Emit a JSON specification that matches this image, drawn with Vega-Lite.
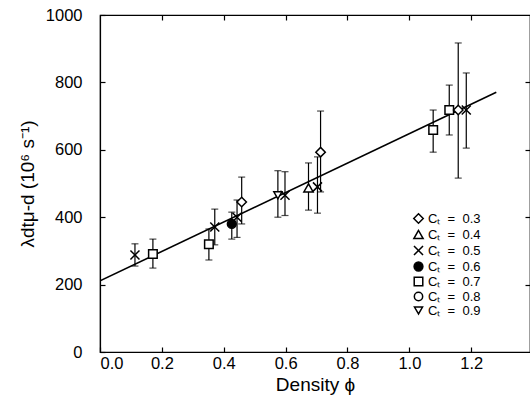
{
  "$schema": "https://vega.github.io/schema/vega-lite/v6.json",
  "width": 430,
  "height": 337,
  "autosize": {"type": "none"},
  "padding": {"left": 100, "top": 15, "right": 0, "bottom": 58},
  "background": "white",
  "config": {
    "font": "Liberation Sans",
    "view": {"stroke": "black", "strokeWidth": 1.2},
    "axis": {
      "grid": false,
      "domainColor": "black",
      "tickColor": "black",
      "labelColor": "black",
      "titleColor": "black",
      "labelFontSize": 16.5,
      "titleFontSize": 19,
      "titleFontWeight": "normal",
      "tickSize": -5,
      "domainWidth": 1.2,
      "tickWidth": 1.2
    },
    "legend": {
      "orient": "none", "legendX": 312, "legendY": 197, "title": null,
      "labelFontSize": 13, "labelColor": "black", "rowPadding": 0, "padding": 0, "labelOffset": 3,
      "symbolSize": 45
    }
  },
  "datasets": {
    "pts": [
      {"phi": 0.113, "lam": 288, "lo": 255, "hi": 321, "ct": "0.5"},
      {"phi": 0.171, "lam": 291, "lo": 249, "hi": 335, "ct": "0.7"},
      {"phi": 0.352, "lam": 320, "lo": 273, "hi": 365, "ct": "0.7"},
      {"phi": 0.371, "lam": 371, "lo": 318, "hi": 424, "ct": "0.5"},
      {"phi": 0.426, "lam": 380, "lo": 335, "hi": 415, "ct": "0.6"},
      {"phi": 0.443, "lam": 400, "lo": 340, "hi": 451, "ct": "0.5"},
      {"phi": 0.458, "lam": 445, "lo": 380, "hi": 519, "ct": "0.3"},
      {"phi": 0.575, "lam": 465, "lo": 400, "hi": 538, "ct": "0.9"},
      {"phi": 0.598, "lam": 465, "lo": 405, "hi": 535, "ct": "0.5"},
      {"phi": 0.674, "lam": 487, "lo": 421, "hi": 561, "ct": "0.4"},
      {"phi": 0.703, "lam": 490, "lo": 412, "hi": 579, "ct": "0.5"},
      {"phi": 0.713, "lam": 593, "lo": 475, "hi": 715, "ct": "0.3"},
      {"phi": 1.077, "lam": 659, "lo": 593, "hi": 718, "ct": "0.7"},
      {"phi": 1.129, "lam": 718, "lo": 644, "hi": 792, "ct": "0.7"},
      {"phi": 1.158, "lam": 718, "lo": 516, "hi": 917, "ct": "0.3"},
      {"phi": 1.184, "lam": 718, "lo": 605, "hi": 828, "ct": "0.5"}
    ],
    "fit": [
      {"phi": 0.0, "lam": 211},
      {"phi": 1.281, "lam": 771}
    ]
  },
  "layer": [
    {
      "data": {"name": "fit"},
      "mark": {"type": "line", "color": "black", "strokeWidth": 1.6, "clip": true},
      "encoding": {
        "x": {"field": "phi", "type": "quantitative", "scale": {"domain": [0, 1.39], "nice": false},
              "axis": {"orient": "top", "labels": false, "title": null, "values": [0.2, 0.4, 0.6, 0.8, 1.0, 1.2]}},
        "y": {"field": "lam", "type": "quantitative", "scale": {"domain": [0, 1000], "nice": false},
              "axis": {"orient": "right", "labels": false, "title": null, "values": [200, 400, 600, 800]}}
      }
    },
    {
      "data": {"name": "pts"},
      "mark": {"type": "rule", "color": "black", "strokeWidth": 1.2},
      "encoding": {
        "x": {"field": "phi", "type": "quantitative",
              "axis": {"orient": "bottom", "title": "Density ϕ", "values": [0, 0.2, 0.4, 0.6, 0.8, 1.0, 1.2], "format": ".1f", "labelPadding": 8, "titlePadding": 4}},
        "y": {"field": "lo", "type": "quantitative",
              "axis": {"orient": "left", "title": "λdtμ-d (10⁶ s⁻¹)", "values": [0, 200, 400, 600, 800, 1000], "format": "d", "labelPadding": 23, "titlePadding": 8}},
        "y2": {"field": "hi"}
      }
    },
    {
      "data": {"name": "pts"},
      "mark": {"type": "tick", "orient": "horizontal", "color": "black", "size": 7, "thickness": 1.2},
      "encoding": {
        "x": {"field": "phi", "type": "quantitative", "axis": null},
        "y": {"field": "lo", "type": "quantitative", "axis": null}
      }
    },
    {
      "data": {"name": "pts"},
      "mark": {"type": "tick", "orient": "horizontal", "color": "black", "size": 7, "thickness": 1.2},
      "encoding": {
        "x": {"field": "phi", "type": "quantitative", "axis": null},
        "y": {"field": "hi", "type": "quantitative", "axis": null}
      }
    },
    {
      "data": {"name": "pts"},
      "mark": {"type": "point", "stroke": "black", "strokeWidth": 1.5, "opacity": 1},
      "encoding": {
        "x": {"field": "phi", "type": "quantitative", "axis": null},
        "y": {"field": "lam", "type": "quantitative", "axis": null},
        "size": {
          "field": "ct", "type": "nominal",
          "scale": {
            "domain": ["0.3", "0.4", "0.5", "0.6", "0.7", "0.8", "0.9"],
            "range": [90, 65, 22, 42, 70, 25, 65]
          },
          "legend": {
            "labelExpr": "'C\u209c\u00a0\u00a0=\u00a0\u00a00' + substring(datum.label, 1)",
            "encode": {"symbols": {"update": {"stroke": {"value": "black"}, "strokeWidth": {"value": 1.5}}}}
          }
        },
        "shape": {
          "field": "ct", "type": "nominal",
          "scale": {
            "domain": ["0.3", "0.4", "0.5", "0.6", "0.7", "0.8", "0.9"],
            "range": ["diamond", "triangle-up", "M-1,-1L1,1M1,-1L-1,1", "circle", "square", "circle", "triangle-down"]
          },
          "legend": {
            "labelExpr": "'C\u209c\u00a0\u00a0=\u00a0\u00a00' + substring(datum.label, 1)",
            "encode": {"symbols": {"update": {"stroke": {"value": "black"}, "strokeWidth": {"value": 1.5}}}}
          }
        },
        "fill": {
          "field": "ct", "type": "nominal",
          "scale": {
            "domain": ["0.3", "0.4", "0.5", "0.6", "0.7", "0.8", "0.9"],
            "range": ["white", "white", "white", "black", "white", "white", "white"]
          },
          "legend": {
            "labelExpr": "'C\u209c\u00a0\u00a0=\u00a0\u00a00' + substring(datum.label, 1)",
            "encode": {"symbols": {"update": {"stroke": {"value": "black"}, "strokeWidth": {"value": 1.5}}}}
          }
        }
      }
    }
  ]
}
